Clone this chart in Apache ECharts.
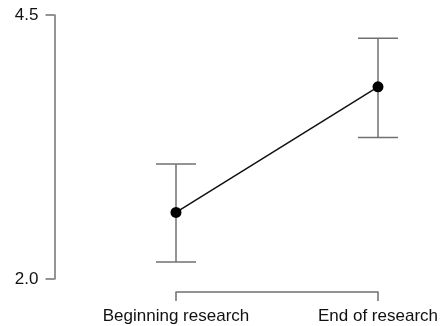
<!DOCTYPE html>
<html>
<head>
<meta charset="utf-8">
<script src="https://cdn.jsdelivr.net/npm/echarts@6/dist/echarts.min.js"></script>
<style>html,body{margin:0;padding:0;background:#fff}#c{width:443px;height:326px}</style>
</head>
<body>
<div id="c"></div>
<script>
const categories = ['Beginning research', 'End of research'];
const means = [2.63, 3.82];
const lower = [2.16, 3.34];
const upper = [3.09, 4.28];
const yTicks = [2.0, 4.5];

const chart = echarts.init(document.getElementById('c'));
const font = 'Liberation Sans, Arial, sans-serif';
chart.setOption({
  animation: false,
  grid: { left: 176, right: 65, top: 15, bottom: 47 },
  xAxis: {
    type: 'category',
    data: categories,
    boundaryGap: false,
    offset: 13,
    axisLine: { lineStyle: { color: '#707070', width: 1.5 } },
    axisTick: { length: 9, alignWithLabel: true, lineStyle: { color: '#707070', width: 1.5 } },
    axisLabel: { color: '#111', fontSize: 17, fontFamily: font, margin: 16 },
    splitLine: { show: false }
  },
  yAxis: {
    type: 'value',
    min: yTicks[0],
    max: yTicks[1],
    interval: yTicks[1] - yTicks[0],
    offset: 121.5,
    axisLine: { show: true, lineStyle: { color: '#707070', width: 1.5 } },
    axisTick: { show: true, length: 9, lineStyle: { color: '#707070', width: 1.5 } },
    axisLabel: { color: '#111', fontSize: 17, fontFamily: font, margin: 16, formatter: v => v.toFixed(1) },
    splitLine: { show: false }
  },
  series: [
    {
      type: 'custom',
      clip: false,
      data: categories.map((c, i) => [i, lower[i], upper[i]]),
      renderItem: function (params, api) {
        const x = api.value(0);
        const lo = api.coord([x, api.value(1)]);
        const hi = api.coord([x, api.value(2)]);
        const hw = 20;
        const style = { stroke: '#707070', lineWidth: 1.5 };
        return {
          type: 'group',
          children: [
            { type: 'line', shape: { x1: lo[0], y1: lo[1], x2: hi[0], y2: hi[1] }, style },
            { type: 'line', shape: { x1: hi[0] - hw, y1: hi[1], x2: hi[0] + hw, y2: hi[1] }, style },
            { type: 'line', shape: { x1: lo[0] - hw, y1: lo[1], x2: lo[0] + hw, y2: lo[1] }, style }
          ]
        };
      },
      z: 1
    },
    {
      type: 'line',
      data: means,
      symbol: 'circle',
      symbolSize: 11,
      itemStyle: { color: '#000' },
      lineStyle: { color: '#111', width: 1.5 },
      z: 3
    }
  ]
});
</script>
</body>
</html>
